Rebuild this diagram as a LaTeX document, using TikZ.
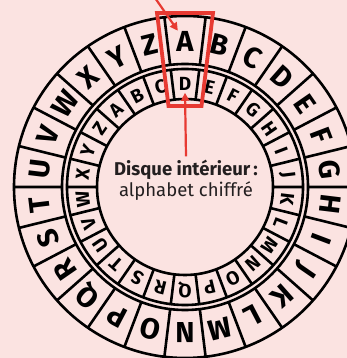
\documentclass[tikz,border=0pt]{standalone}
\usepackage{fontspec}
\setmainfont{Fira Sans}
\usetikzlibrary{arrows.meta, calc}
\definecolor{bgpink}{RGB}{251,227,225}
\definecolor{cipherred}{RGB}{231,58,50}
\definecolor{textdark}{RGB}{35,31,32}

\begin{document}
\begin{tikzpicture}[
    x=1pt, y=1pt,
    >={Triangle[length=8pt,width=8pt]},
    ring/.style={line width=2.6pt, black},
    outerletter/.style={font=\fontsize{29}{29}\selectfont\bfseries, inner sep=0pt},
    innerletter/.style={font=\fontsize{19}{19}\selectfont\bfseries, inner sep=0pt},
    marker/.style={cipherred, line width=2.2pt},
]
\def\Ro{171}   % outer edge of outer disk
\def\Rm{123}   % inner edge of outer disk
\def\Rn{118}   % outer edge of inner disk
\def\Ri{88}    % inner edge of inner disk
\def\da{13.846} % 360/26
\def\ckey{3}   % key of the cipher

% Background
\fill[bgpink] (0,0) rectangle (347,358);
\useasboundingbox (0,0) rectangle (347,358);

\begin{scope}[shift={(185,171)}]
% Rings
\draw[ring] (0,0) circle (\Ro);
\draw[ring] (0,0) circle (\Rm);
\draw[ring] (0,0) circle (\Rn);
\draw[ring] (0,0) circle (\Ri);

% Cell separators
\foreach \k in {0,...,25} {
    \draw[ring] ({90+\da/2+\k*\da}:\Rm) -- ({90+\da/2+\k*\da}:\Ro);
    \draw[ring] ({90+\da/2+\k*\da}:\Ri) -- ({90+\da/2+\k*\da}:\Rn);
}

% Outer disk: plain alphabet
\foreach \l [count=\k from 0] in {A,...,Z}
    \node[outerletter, rotate={-\k*\da}] (out\l) at ({90-\k*\da}:146) {\l};

% Inner disk: cipher alphabet
\foreach \l [count=\k from 0] in {A,...,Z}
    \node[innerletter, rotate={-(\k-\ckey)*\da}] (in\l) at ({90-(\k-\ckey)*\da}:103) {\l};

% Highlight of the pair A -> D
\draw[cipherred, line width=3.8pt, line join=miter]
    (-28,174) -- (28,174) -- (16.5,81) -- (-16.5,81) -- cycle;

% Center label
\node[textdark, font=\fontsize{18.5}{21}\selectfont, align=center] (label) at (1,7)
    {\textbf{Disque intérieur\,:}\\alphabet chiffré};

% Arrows
\coordinate (plain) at (-32,192);
\draw[marker, ->] (plain) -- (outA.125);
\draw[marker, ->] (label.north) -- ([yshift=-2pt]inD.south);
\end{scope}

\end{tikzpicture}
\end{document}
